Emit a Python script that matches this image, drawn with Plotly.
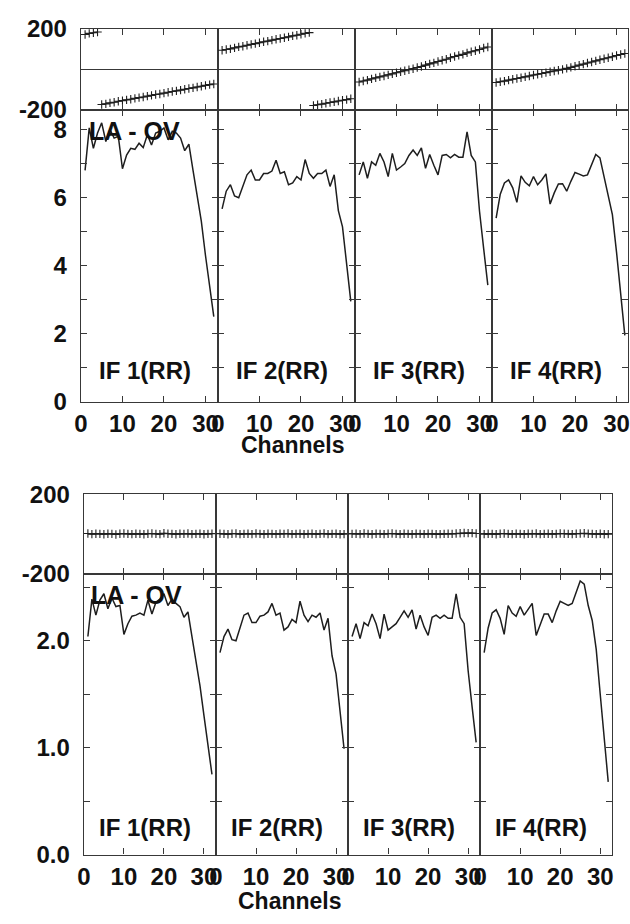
import plotly.graph_objects as go

# ---------------- data ----------------
channels = list(range(1, 33))
channel_ticks = [0, 10, 20, 30]
if_labels = ["IF 1(RR)", "IF 2(RR)", "IF 3(RR)", "IF 4(RR)"]
baseline_label = "LA - OV"
x_title = "Channels"

phase_ticks = [-200, 200]
phase_ticktext = ["-200", "200"]

amp_top_ticks = [0, 1, 2, 3, 4, 5, 6, 7, 8]
amp_top_ticktext = ["0", "", "2", "", "4", "", "6", "", "8"]
amp_bot_ticks = [0.0, 0.5, 1.0, 1.5, 2.0, 2.5]
amp_bot_ticktext = ["0.0", "", "1.0", "", "2.0", ""]

# top figure: phases (degrees)
phase_top_if1 = [172, 177, 180, 184, -173, -170, -165, -162, -157, -154, -150, -147, -143, -139,
                 -136, -132, -128, -124, -121, -117, -113, -109, -106, -102, -98, -94, -91, -87,
                 -83, -79, -75, -72]
phase_top_if2 = [94, 98, 101, 106, 111, 114, 119, 123, 127, 131, 136, 139, 144, 148, 152, 156,
                 160, 165, 168, 173, 177, 181, -178, -174, -171, -167, -163, -160, -156, -152,
                 -149, -145]
phase_top_if3 = [-62, -57, -53, -47, -42, -37, -33, -27, -22, -17, -12, -7, -2, 3, 9, 14, 21,
                 27, 32, 39, 45, 50, 57, 63, 69, 74, 81, 87, 92, 98, 105, 110]
phase_top_if4 = [-65, -61, -58, -53, -49, -45, -41, -37, -33, -28, -24, -20, -16, -12, -8, -4,
                 0, 5, 10, 15, 21, 26, 31, 36, 42, 47, 52, 57, 62, 68, 73, 78]

# top figure: amplitudes
amp_top_if1 = [6.8, 8.05, 7.45, 7.9, 8.2, 7.65, 8.0, 7.75, 7.8, 6.85, 7.25, 7.45, 7.42, 7.6,
               7.47, 7.85, 7.55, 7.9, 7.95, 8.05, 7.7, 7.95, 7.9, 7.75, 7.38, 7.57, 6.8, 6.05,
               5.3, 4.3, 3.4, 2.5]
amp_top_if2 = [5.67, 6.19, 6.38, 6.05, 6.0, 6.33, 6.67, 6.81, 6.52, 6.52, 6.71, 6.71, 6.78,
               7.1, 6.71, 6.76, 6.38, 6.43, 6.62, 6.52, 7.12, 6.71, 6.57, 6.71, 6.71, 6.81,
               6.33, 6.67, 5.62, 5.14, 3.94, 2.95]
amp_top_if3 = [6.67, 7.05, 6.57, 7.05, 6.95, 7.3, 7.05, 6.62, 7.3, 6.81, 6.9, 7.0, 7.24, 7.4,
               7.24, 7.46, 6.86, 7.27, 6.95, 6.67, 7.24, 7.27, 7.17, 7.27, 7.19, 7.19, 7.93,
               7.24, 7.05, 5.6, 4.5, 3.43]
amp_top_if4 = [5.4, 6.1, 6.43, 6.52, 6.29, 5.86, 6.64, 6.45, 6.35, 6.62, 6.38, 6.52, 6.7, 5.81,
               6.14, 6.4, 6.41, 6.19, 6.48, 6.74, 6.69, 6.64, 6.67, 6.95, 7.27, 7.17, 6.62,
               6.1, 5.5, 4.4, 3.2, 1.95]

# bottom figure: phases (degrees)
phase_bot_if1 = [2, -1, 1, 0, -2, 1, 0, -3, 1, 2, 0, -1, 1, 0, -2, 1, 2, 0, -1, 3, 1, 0, -2, 1,
                 0, 2, -1, 0, 1, -2, 0, 1]
phase_bot_if2 = [1, 0, -2, 1, 2, -1, 0, 1, -1, 2, 0, -2, 1, 0, -1, 1, 0, 2, -1, 0, 1, -2, 0, 1,
                 -1, 0, 2, -1, 0, 1, -2, -1]
phase_bot_if3 = [0, 1, -1, 2, 0, -2, 1, 0, -1, 1, 2, 0, -1, 1, 0, -2, 1, 0, -1, 1, 0, -2, -1, 0,
                 1, 0, 2, 3, 5, 4, 4, 2]
phase_bot_if4 = [-1, 1, 0, -2, 1, 2, 0, -1, 1, 0, -2, 1, 0, 2, -1, 0, 1, -1, 0, 2, 1, 0, -1, 1,
                 2, 3, 1, 0, -1, 1, -2, -1]

# bottom figure: amplitudes
amp_bot_if1 = [2.04, 2.39, 2.24, 2.38, 2.44, 2.30, 2.40, 2.32, 2.33, 2.06, 2.16, 2.23, 2.24,
               2.26, 2.24, 2.38, 2.25, 2.36, 2.39, 2.44, 2.33, 2.39, 2.35, 2.32, 2.22, 2.27,
               2.04, 1.81, 1.58, 1.30, 1.02, 0.75]
amp_bot_if2 = [1.89, 2.04, 2.11, 2.01, 2.00, 2.13, 2.24, 2.26, 2.17, 2.17, 2.23, 2.24, 2.27,
               2.35, 2.24, 2.26, 2.10, 2.13, 2.20, 2.17, 2.37, 2.24, 2.18, 2.24, 2.22, 2.26,
               2.10, 2.21, 1.86, 1.69, 1.33, 0.99]
amp_bot_if3 = [2.04, 2.16, 2.02, 2.17, 2.14, 2.25, 2.16, 2.02, 2.25, 2.10, 2.13, 2.16, 2.22,
               2.28, 2.22, 2.29, 2.11, 2.24, 2.13, 2.05, 2.22, 2.24, 2.21, 2.24, 2.21, 2.21,
               2.44, 2.22, 2.16, 1.72, 1.38, 1.05]
amp_bot_if4 = [1.89, 2.12, 2.26, 2.29, 2.21, 2.06, 2.33, 2.26, 2.23, 2.32, 2.24, 2.29, 2.35,
               2.05, 2.16, 2.25, 2.25, 2.17, 2.28, 2.37, 2.35, 2.33, 2.35, 2.45, 2.56, 2.53,
               2.33, 2.19, 1.92, 1.50, 1.10, 0.68]

# ---------------- layout ----------------
W, H = 630, 924
FONT = "Liberation Sans, Arial, Helvetica, sans-serif"
INK = "#1e1e1e"
FRAME = "#383838"
LW = 1.4
TICKFONT = dict(size=24, color="#111", family=FONT, weight="bold")

blocks = [
    dict(x0=75, pw=139, y_top=16, y_split=100, y_bot=400,
         amp_range=[0, 8.571], amp_ticks=amp_top_ticks, amp_text=amp_top_ticktext,
         phases=[phase_top_if1, phase_top_if2, phase_top_if3, phase_top_if4],
         amps=[amp_top_if1, amp_top_if2, amp_top_if3, amp_top_if4],
         la=(81, 121), if_y=368, ch=(290, 444)),
    dict(x0=78, pw=134, y_top=495, y_split=577, y_bot=866,
         amp_range=[0, 2.627], amp_ticks=amp_bot_ticks, amp_text=amp_bot_ticktext,
         phases=[phase_bot_if1, phase_bot_if2, phase_bot_if3, phase_bot_if4],
         amps=[amp_bot_if1, amp_bot_if2, amp_bot_if3, amp_bot_if4],
         la=(83, 599), if_y=838, ch=(287, 914)),
]

fig = go.Figure()
layout = {}
annotations = []


def ydom(a, b):
    return [1 - b / H, 1 - a / H]


def gapped(xs, ys):
    ox, oy = [], []
    for i, (x, y) in enumerate(zip(xs, ys)):
        if i > 0 and abs(y - ys[i - 1]) > 180:
            ox.append(None)
            oy.append(None)
        ox.append(x)
        oy.append(y)
    return ox, oy


ax = 0
for b in blocks:
    for p in range(4):
        left = b["x0"] + p * b["pw"]
        right = min(left + b["pw"], W)
        xd = [left / W, right / W]
        for kind in ("phase", "amp"):
            ax += 1
            xn = "x" if ax == 1 else f"x{ax}"
            yn = "y" if ax == 1 else f"y{ax}"
            xk = "xaxis" if ax == 1 else f"xaxis{ax}"
            yk = "yaxis" if ax == 1 else f"yaxis{ax}"
            show_xlab = kind == "amp"
            xr = [0, 33 * (right - left) / b["pw"]]
            layout[xk] = dict(domain=xd, anchor=yn, range=xr, tickvals=channel_ticks,
                              ticktext=[str(t) for t in channel_ticks],
                              showticklabels=show_xlab, ticks="inside", ticklen=6,
                              tickwidth=1.2, tickcolor=FRAME, mirror="ticks", showline=True,
                              linecolor=FRAME, linewidth=LW, showgrid=False, zeroline=False,
                              ticklabelstandoff=0, ticklabeloverflow="allow",
                              tickfont=TICKFONT)
            if kind == "phase":
                ys = b["phases"][p]
                layout[yk] = dict(domain=ydom(b["y_top"], b["y_split"]), anchor=xn,
                                  range=[-201, 201], tickvals=phase_ticks,
                                  ticktext=phase_ticktext, showticklabels=(p == 0), ticks="",
                                  showline=True, mirror=True, linecolor=FRAME, linewidth=LW,
                                  showgrid=False, zeroline=True, zerolinecolor=FRAME,
                                  zerolinewidth=1.2, ticklabelstandoff=8,
                                  ticklabeloverflow="allow", tickfont=TICKFONT)
                gx, gy = gapped(channels, ys)
                fig.add_trace(go.Scatter(x=gx, y=gy, xaxis=xn, yaxis=yn, mode="lines+markers",
                                         line=dict(color=INK, width=1.1),
                                         marker=dict(symbol="cross-thin", size=6,
                                                     line=dict(color=INK, width=1.1)),
                                         showlegend=False, hoverinfo="skip"))
            else:
                layout[yk] = dict(domain=ydom(b["y_split"], b["y_bot"]), anchor=xn,
                                  range=b["amp_range"], tickvals=b["amp_ticks"],
                                  ticktext=b["amp_text"], showticklabels=(p == 0),
                                  ticks="inside", ticklen=6, tickwidth=1.2, tickcolor=FRAME,
                                  mirror="ticks", showline=True, linecolor=FRAME,
                                  linewidth=LW, showgrid=False, zeroline=False,
                                  ticklabelstandoff=8, ticklabeloverflow="allow",
                                  tickfont=TICKFONT)
                fig.add_trace(go.Scatter(x=channels, y=b["amps"][p], xaxis=xn, yaxis=yn,
                                         mode="lines", line=dict(color=INK, width=1.5),
                                         showlegend=False, hoverinfo="skip"))
                cx = b["x0"] + (p + 0.5) * b["pw"] - 5
                annotations.append(dict(text=if_labels[p], x=cx / W, y=1 - b["if_y"] / H,
                                        xref="paper", yref="paper", showarrow=False,
                                        xanchor="center", yanchor="middle",
                                        font=dict(size=24, color="#111", family=FONT,
                                                  weight="bold")))
    annotations.append(dict(text=baseline_label, x=b["la"][0] / W, y=1 - b["la"][1] / H,
                            xref="paper", yref="paper", showarrow=False, xanchor="left",
                            yanchor="middle",
                            font=dict(size=25, color="#111", family=FONT, weight="bold")))
    annotations.append(dict(text=x_title, x=b["ch"][0] / W, y=1 - b["ch"][1] / H,
                            xref="paper", yref="paper", showarrow=False, xanchor="center",
                            yanchor="middle",
                            font=dict(size=23, color="#111", family=FONT, weight="bold")))

fig.update_layout(width=W, height=H, margin=dict(l=0, r=0, t=0, b=0),
                  paper_bgcolor="white", plot_bgcolor="white", annotations=annotations,
                  font=dict(family=FONT, color="#111"), **layout)

fig.write_html("out.html")
